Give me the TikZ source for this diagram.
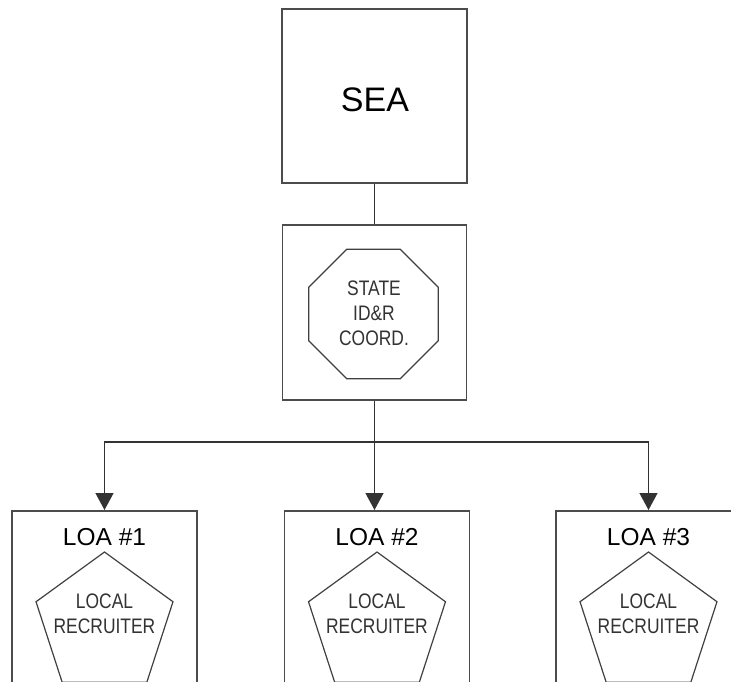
\documentclass[tikz,border=0pt]{standalone}
\usepackage{fontspec}
\setmainfont{Liberation Sans}
\newfontfamily\narrowfont[FakeStretch=0.83]{Liberation Sans}
\usetikzlibrary{shapes.geometric,arrows.meta}
\begin{document}
\begin{tikzpicture}[x=1pt,y=-1pt,
  boxstyle/.style={draw=black!70,line width=1.6pt,rectangle,inner sep=0pt},
  octstyle/.style={draw=black!75,line width=1.2pt,regular polygon,regular polygon sides=8,minimum size=140pt,inner sep=0pt},
  pentstyle/.style={draw=black!75,line width=1.2pt,regular polygon,regular polygon sides=5,minimum size=144pt,inner sep=0pt},
  smalltext/.style={font=\narrowfont\fontsize{21}{25}\selectfont,text=black!80,align=center,inner sep=0pt},
  loatext/.style={font=\fontsize{24.5}{28}\selectfont,inner sep=0pt},
  conn/.style={draw=black!80,line width=1.3pt},
  arr/.style={conn,-{Triangle[width=18pt,length=17pt]}}]
\clip (0,0) rectangle (731,681);
\fill[white] (0,0) rectangle (731,681);
% SEA
\node[boxstyle,minimum width=185pt,minimum height=174pt] (sea) at (374.5,96) {};
\node[font=\fontsize{34}{40}\selectfont,inner sep=0pt] (seatext) at (375,100) {SEA};
% State
\node[boxstyle,minimum width=184pt,minimum height=175pt] (state) at (374.5,312.5) {};
\node[octstyle] (oct) at (373.5,314) {};
\node[smalltext] (octtext) at (374,313) {STATE\\ID\&R\\COORD.};
% LOA boxes
\node[boxstyle,minimum width=185pt,minimum height=200pt,anchor=north] (loa1) at (104.5,510) {};
\node[boxstyle,minimum width=185pt,minimum height=200pt,anchor=north] (loa2) at (377,510) {};
\node[boxstyle,minimum width=185pt,minimum height=200pt,anchor=north] (loa3) at (648.5,510) {};
\foreach \i/\x in {1/104.5,2/377,3/648.5}{
  \node[loatext] (lt\i) at (\x,537) {LOA \#\i};
  \node[pentstyle] (pent\i) at (\x,624) {};
  \node[smalltext] (pt\i) at (\x,614) {LOCAL\\RECRUITER};
}
% connectors
\draw[conn] (sea.south) -- (state.north);
\coordinate (junc) at (state.south |- 0,442);
\draw[conn] (state.south) -- (junc);
\draw[arr] (junc) -| (loa1.north);
\draw[arr] (junc) -| (loa3.north);
\draw[arr] (state.south) -- (state.south |- loa2.north);
\end{tikzpicture}
\end{document}
